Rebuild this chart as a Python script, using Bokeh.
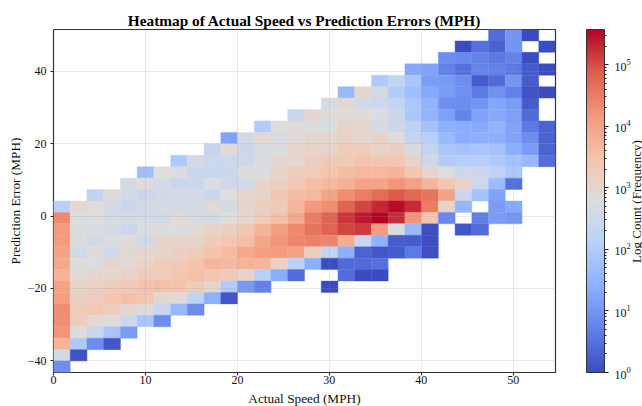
import math
import numpy as np
from bokeh.plotting import figure
from bokeh.layouts import row
from bokeh.models import (ColumnDataSource, LogColorMapper, ColorBar, LogTicker, FixedTicker,
                          Range1d, Label, LogTickFormatter)
from bokeh.embed import file_html
from bokeh.resources import INLINE

TITLE = "Heatmap of Actual Speed vs Prediction Errors (MPH)"
X_LABEL = "Actual Speed (MPH)"
Y_LABEL = "Prediction Error (MPH)"
CB_LABEL = "Log Count (Frequency)"
X_TICKS = [0, 10, 20, 30, 40, 50]
Y_TICKS = [-40, -20, 0, 20, 40]
X_MAX = 54.6
Y_MIN, Y_MAX = -43.2, 51.5
N_BINS = 30
COUNT_MAX = 10 ** 5.57

# log10(count) per row, top row first; each row begins at column row_start[k]; None = empty bin
row_start = [26, 24, 23, 21, 19, 17, 16, 14, 12, 10, 9, 7, 5, 4, 2, 0, 0, 0, 0, 0,
             0, 0, 0, 0, 0, 0, 0, 0, 0, 0]
row_00 = [.45, 1.0, 0, None]
row_01 = [0, .5, .3, 1.0, None, 0]
row_02 = [.85, .8, .7, .6, .7, 0, None]
row_03 = [1.3, 1.2, .7, .5, .75, .7, .6, .2, 0]
row_04 = [1.95, 2.3, 1.85, 1.1, 1.05, .9, .2, .4, 1.0, .2, None]
row_05 = [1.6, 3.0, 2.6, 2.0, 1.7, 1.3, 1.1, .9, .6, .95, .7, .1, 0]
row_06 = [2.65, 2.95, 2.55, 2.5, 2.3, 1.9, 1.5, .9, .85, 1.0, 1.25, 1.1, .2, None]
row_07 = [2.4, 3.0, 2.85, 2.85, 2.85, 2.7, 2.5, 1.9, 1.5, 1.15, .75, 1.2, 1.3, 1.15, .4, None]
row_08 = [2.0, 2.8, 2.85, 2.75, 2.75, 3.05, 3.0, 2.65, 2.5, 2.2, 1.8, 1.4, 1.35, 1.3, 1.5, 1.2, .6, .3]
row_09 = [1.2, 2.6, 2.95, 2.65, 2.9, 3.0, 3.0, 3.1, 3.0, 3.1, 2.85, 2.3, 2.1, 1.6, 1.35, 1.4, 1.4, 1.2, .85, .3]
row_10 = [2.35, 2.9, 2.5, 2.7, 2.75, 3.0, 3.1, 3.05, 3.3, 3.3, 3.1, 3.2, 2.65, 2.3, 1.9, 1.8, 1.85, 1.8, 1.4, 1.1, .3]
row_11 = [1.95, 2.6, 2.45, 2.45, 2.5, 2.7, 2.95, 3.0, 3.2, 3.35, 3.35, 3.5, 3.4, 3.45, 3.1, 2.5, 2.0, 2.05, 2.1, 1.95, 1.8, 1.6, .45]
row_12 = [1.7, 2.8, 2.7, 2.4, 2.4, 2.45, 2.75, 2.75, 3.05, 3.3, 3.3, 3.45, 3.6, 3.65, 3.65, 3.75, 3.45, 3.0, 2.8, 2.5, 2.5, 2.2, 1.9]
row_13 = [2.6, 2.85, 2.6, 2.4, 2.4, 2.7, 2.5, 2.55, 3.05, 3.15, 3.35, 3.55, 3.65, 3.8, 4.0, 4.0, 4.2, 4.05, 3.7, 3.45, 3.1, 2.5, 1.65, .5]
row_14 = [2.25, 2.85, 2.55, 2.4, 2.55, 2.6, 2.6, 2.4, 2.8, 3.0, 3.05, 3.4, 3.6, 3.65, 4.0, 4.3, 4.5, 4.7, 4.9, 4.75, 4.6, 4.0, 2.45, 1.8, 1.2]
row_15 = [2.1, 2.95, 2.85, 2.6, 2.4, 2.6, 2.65, 2.6, 2.6, 2.9, 2.6, 3.05, 3.2, 3.3, 3.7, 4.15, 4.3, 4.8, 5.05, 5.3, 5.5, 5.25, 4.5, 3.05, 1.55, None, 1.1, 1.3]
row_16 = [4.35, 2.75, 2.75, 2.65, 2.6, 2.65, 2.55, 2.9, 2.65, 2.6, 2.8, 3.0, 3.3, 3.55, 3.9, 4.5, 4.8, 5.2, 5.4, 5.55, 5.25, 4.2, 3.4, .8, None, .65, 1.1, 1.0]
row_17 = [4.1, 2.75, 2.7, 2.65, 2.45, 2.7, 2.85, 2.75, 2.9, 3.1, 3.2, 3.4, 3.7, 4.05, 4.35, 4.6, 4.8, 5.05, 5.15, 4.1, 2.7, 1.6, .05, None, .15, .45]
row_18 = [4.1, 2.75, 2.55, 2.7, 2.85, 2.55, 3.05, 3.05, 3.05, 3.25, 3.45, 3.55, 3.95, 4.2, 4.4, 4.45, 4.4, 3.85, 2.4, 1.45, .2, .2, .05]
row_19 = [4.0, 2.55, 2.85, 2.55, 2.95, 3.0, 3.05, 3.15, 3.3, 3.5, 3.6, 3.9, 4.05, 4.1, 4.0, 3.2, 2.3, 1.4, .3, .15, .2, .6, .05]
row_20 = [3.9, 2.85, 2.7, 3.05, 2.95, 3.1, 3.3, 3.35, 3.5, 3.7, 3.65, 3.75, 3.7, 3.1, 2.15, 1.4, 0, .4, .4, .5]
row_21 = [3.75, 2.9, 3.0, 3.0, 3.1, 3.25, 3.3, 3.45, 3.55, 3.45, 3.35, 3.05, 2.1, 1.35, .45, None, None, .45, 0, 0]
row_22 = [4.0, 3.1, 3.15, 3.3, 3.35, 3.5, 3.55, 3.5, 3.3, 3.0, 2.0, 1.05, .7, None, None, None, 0]
row_23 = [4.05, 3.15, 3.25, 3.45, 3.55, 3.4, 2.95, 2.9, 2.25, 1.4, .15]
row_24 = [4.3, 3.3, 3.35, 3.25, 3.0, 2.85, 2.4, 1.6, .85]
row_25 = [4.3, 3.25, 2.95, 2.85, 2.45, 1.85, .85]
row_26 = [4.2, 2.85, 2.4, 1.85, 1.1]
row_27 = [3.75, 1.95, .85, .15]
row_28 = [2.55, .1]
row_29 = [.9]
rows = [row_00, row_01, row_02, row_03, row_04, row_05, row_06, row_07, row_08, row_09,
        row_10, row_11, row_12, row_13, row_14, row_15, row_16, row_17, row_18, row_19,
        row_20, row_21, row_22, row_23, row_24, row_25, row_26, row_27, row_28, row_29]

x_edges = np.linspace(0, X_MAX, N_BINS + 1)
y_edges = np.linspace(Y_MAX, Y_MIN, N_BINS + 1)
left, right, top, bottom, count = [], [], [], [], []
for k, r in enumerate(rows):
    for j, v in enumerate(r):
        if v is None:
            continue
        c = row_start[k] + j
        left.append(x_edges[c]); right.append(x_edges[c + 1])
        top.append(y_edges[k]); bottom.append(y_edges[k + 1])
        count.append(10 ** v)
src = ColumnDataSource(dict(left=left, right=right, top=top, bottom=bottom, count=count))

anchors = [(59, 76, 192), (98, 130, 234), (141, 176, 254), (184, 208, 249), (221, 221, 221),
           (245, 196, 173), (244, 152, 122), (222, 96, 77), (180, 4, 38)]
palette = []
for i in range(256):
    t = i / 255 * 8
    a = min(int(t), 7)
    f = t - a
    rgb = [round(anchors[a][n] + (anchors[a + 1][n] - anchors[a][n]) * f) for n in range(3)]
    palette.append("#%02x%02x%02x" % tuple(rgb))
mapper = LogColorMapper(palette=palette, low=1, high=COUNT_MAX)

FONT = "Liberation Serif"
p = figure(frame_width=502, frame_height=343, output_backend="svg", toolbar_location=None,
           x_range=Range1d(0, X_MAX), y_range=Range1d(Y_MIN, Y_MAX),
           title=TITLE, x_axis_label=X_LABEL, y_axis_label=Y_LABEL)
p.min_border_left = 53
p.min_border_top = 29
p.min_border_bottom = 34
p.min_border_right = 75
p.title.align = "center"
p.title.text_font = FONT
p.title.text_font_size = "15.3px"
p.title.text_font_style = "bold"
p.title.text_color = "black"
p.title.offset = 0
p.title.standoff = 2

p.quad(left="left", right="right", top="top", bottom="bottom", source=src,
       line_color={"field": "count", "transform": mapper}, line_width=0.4,
       fill_color={"field": "count", "transform": mapper})

for ax, ticks in ((p.xaxis[0], X_TICKS), (p.yaxis[0], Y_TICKS)):
    ax.ticker = FixedTicker(ticks=ticks)
    ax.minor_tick_line_color = None
    ax.major_tick_in = 0
    ax.major_tick_out = 3
    ax.major_tick_line_color = "#222222"
    ax.axis_line_color = None
    ax.major_label_text_font = FONT
    ax.major_label_text_font_size = "12px"
    ax.major_label_text_color = "#111111"
    ax.axis_label_text_font = FONT
    ax.axis_label_text_font_size = "13.3px"
    ax.axis_label_text_font_style = "normal"
    ax.axis_label_text_color = "#111111"
p.xaxis[0].major_label_standoff = 0
p.xaxis[0].axis_label_standoff = 4
p.yaxis[0].major_label_standoff = 4
p.yaxis[0].axis_label_standoff = 2
p.yaxis[0].major_label_orientation = "horizontal"

p.xgrid.ticker = FixedTicker(ticks=X_TICKS)
p.ygrid.ticker = FixedTicker(ticks=Y_TICKS)
for g in (p.xgrid[0], p.ygrid[0]):
    g.level = "overlay"
    g.grid_line_color = "#999999"
    g.grid_line_alpha = 0.4
    g.grid_line_dash = "2 1"
    g.grid_line_width = 0.8
p.outline_line_color = "#333333"
p.outline_line_width = 1.2
p.outline_line_alpha = 1

cb = ColorBar(color_mapper=mapper, ticker=LogTicker(num_minor_ticks=10), width=18, height=343,
              formatter=LogTickFormatter(), padding=0, margin=0, location=(31, 0),
              major_label_text_font=FONT, major_label_text_font_size="12px",
              major_label_text_color="#111111", major_tick_line_color="#222222",
              major_tick_in=0, major_tick_out=4, minor_tick_line_color="#222222",
              minor_tick_in=0, minor_tick_out=2, bar_line_color="#333333", border_line_color=None,
              background_fill_color=None, label_standoff=6)
p.add_layout(cb, "right")

# narrow companion figure that only carries the colour bar's rotated label
p2 = figure(frame_width=15, frame_height=343, output_backend="svg", toolbar_location=None,
            x_range=Range1d(0, 1), y_range=Range1d(0, 1), x_axis_location=None, y_axis_location=None,
            min_border=0, outline_line_color=None, background_fill_color=None, border_fill_color=None,
            margin=(0, 0, 0, -6))
p2.grid.visible = False
p2.add_layout(Label(x=9, y=171, x_units="screen", y_units="screen", text=CB_LABEL, angle=math.pi / 2,
                    text_font=FONT, text_font_size="13px", text_color="#111111", text_align="center",
                    text_baseline="middle"))

layout = row(p, p2, spacing=0)
open("out.html", "w").write(file_html(layout, INLINE))
